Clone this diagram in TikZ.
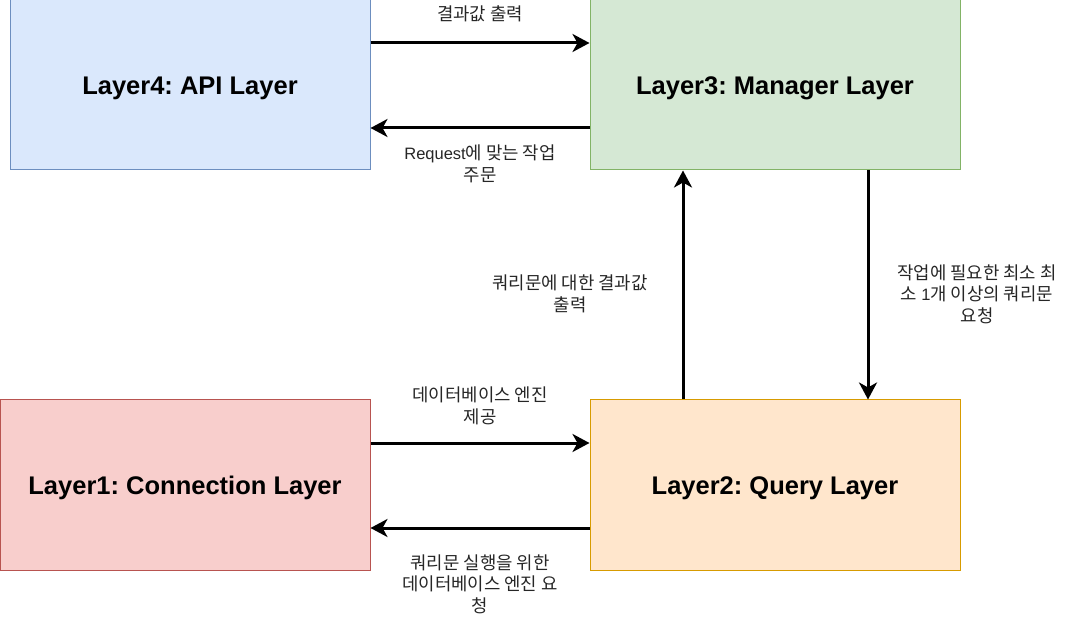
\documentclass[tikz,border=0pt]{standalone}
\usepackage{fontspec}
\setmainfont{Liberation Sans}
\newfontfamily\kr{Noto Sans CJK KR}
\usetikzlibrary{arrows.meta}
\definecolor{bluefill}{HTML}{DAE8FC}\definecolor{bluedraw}{HTML}{6C8EBF}
\definecolor{greenfill}{HTML}{D5E8D4}\definecolor{greendraw}{HTML}{82B366}
\definecolor{redfill}{HTML}{F8CECC}\definecolor{reddraw}{HTML}{B85450}
\definecolor{orangefill}{HTML}{FFE6CC}\definecolor{orangedraw}{HTML}{D79B00}
\newcommand{\lat}[1]{{\rmfamily\fontsize{16.5}{21.5}\selectfont #1}}
\tikzset{
  layerbox/.style={draw, line width=1pt, minimum height=170pt, inner sep=0pt,
    text height=18.3pt, text depth=0pt,
    font=\fontsize{25.5}{30}\selectfont\bfseries\frenchspacing},
  arr/.style={line width=3pt, -{Stealth[length=17pt,width=18pt,inset=5pt]}},
  elabel/.style={align=center, inner sep=0pt, text=black!85, font=\kr\fontsize{17.8}{21.5}\selectfont}
}
\begin{document}
\begin{tikzpicture}[x=1pt,y=-1pt]
\useasboundingbox (0,0) rectangle (1071,617);
\node[layerbox, minimum width=360pt, fill=bluefill, draw=bluedraw] (L4) at (190,85) {Layer4: API Layer};
\node[layerbox, minimum width=370pt, fill=greenfill, draw=greendraw] (L3) at (775,85) {Layer3: Manager Layer};
\node[layerbox, minimum width=370pt, fill=redfill, draw=reddraw] (L1) at (185,485) {Layer1: Connection Layer};
\node[layerbox, minimum width=370pt, fill=orangefill, draw=orangedraw] (L2) at (775,485) {Layer2: Query Layer};

\draw[arr] ([yshift=42pt]L4.east) -- ([yshift=42pt]L3.west);
\draw[arr] ([yshift=-43pt]L3.west) -- ([yshift=-43pt]L4.east);
\draw[arr] ([xshift=-92pt]L2.north) -- ([xshift=-92pt]L3.south);
\draw[arr] ([xshift=93pt]L3.south) -- ([xshift=93pt]L2.north);
\draw[arr] ([yshift=42pt]L1.east) -- ([yshift=42pt]L2.west);
\draw[arr] ([yshift=-43pt]L2.west) -- ([yshift=-43pt]L1.east);

\node[elabel] (t1) at (480,14) {결과값 출력};
\node[elabel] (t2) at (480,164) {\lat{Request}에 맞는 작업\\주문};
\node[elabel] (t3) at (570,294) {쿼리문에 대한 결과값\\출력};
\node[elabel] (t4) at (977,294) {작업에 필요한 최소 최\\소 \lat{1}개 이상의 쿼리문\\요청};
\node[elabel] (t5) at (480,406) {데이터베이스 엔진\\제공};
\node[elabel] (t6) at (480,584) {쿼리문 실행을 위한\\데이터베이스 엔진 요\\청};
\end{tikzpicture}
\end{document}
